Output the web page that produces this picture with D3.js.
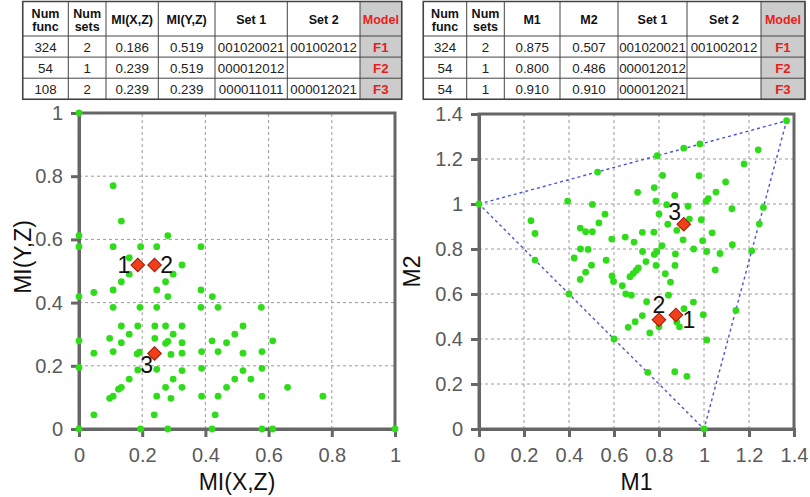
<!DOCTYPE html>
<html><head><meta charset="utf-8">
<script src="https://cdn.jsdelivr.net/npm/d3@7"></script>
<style>
body{margin:0;background:#fff}
svg{display:block}
text{font-family:"Liberation Sans",Arial,Helvetica,sans-serif}
</style>
</head><body>
<svg id="chart" width="810" height="497"></svg>
<script>
// ---------------- DATA ----------------
const leftTableHeader = ["Num\nfunc", "Num\nsets", "MI(X,Z)", "MI(Y,Z)", "Set 1", "Set 2", "Model"];
const leftTableRows = [
  ["324", "2", "0.186", "0.519", "001020021", "001002012", "F1"],
  ["54", "1", "0.239", "0.519", "000012012", "", "F2"],
  ["108", "2", "0.239", "0.239", "000011011", "000012021", "F3"]
];
const rightTableHeader = ["Num\nfunc", "Num\nsets", "M1", "M2", "Set 1", "Set 2", "Model"];
const rightTableRows = [
  ["324", "2", "0.875", "0.507", "001020021", "001002012", "F1"],
  ["54", "1", "0.800", "0.486", "000012012", "", "F2"],
  ["54", "1", "0.910", "0.910", "000012021", "", "F3"]
];

const miTicks = [0, 0.2, 0.4, 0.6, 0.8, 1];
const mTicks = [0, 0.2, 0.4, 0.6, 0.8, 1, 1.2, 1.4];

// MI(X,Z), MI(Y,Z)
const miPoints = [
  [0,1],[0.108,0.770],[0.134,0.658],
  [0,0.612],[0.281,0.612],
  [0,0.577],[0.108,0.577],[0.195,0.577],[0.246,0.577],[0.386,0.577],
  [0.159,0.542],[0.326,0.519],
  [0.159,0.490],[0.298,0.490],
  [0.134,0.466],[0.274,0.466],
  [0.047,0.432],
  [0.108,0.440],[0.246,0.440],[0.386,0.440],
  [0,0.419],[0.281,0.419],[0.422,0.419],
  [0.108,0.385],[0.193,0.385],[0.246,0.385],[0.386,0.385],[0.440,0.385],[0.577,0.385],
  [0.134,0.326],[0.186,0.326],[0.240,0.326],[0.274,0.326],[0.326,0.326],[0.519,0.326],
  [0.159,0.300],[0.298,0.300],[0.493,0.300],
  [0.097,0.287],[0.240,0.287],
  [0,0.279],[0.421,0.279],[0.613,0.279],
  [0.134,0.273],[0.274,0.271],[0.281,0.277],[0.326,0.273],[0.467,0.273],
  [0.047,0.240],[0.108,0.245],[0.184,0.238],[0.191,0.243],[0.291,0.236],[0.326,0.240],[0.388,0.245],[0.440,0.245],[0.519,0.240],[0.579,0.245],
  [0,0.195],[0.186,0.187],[0.246,0.189],[0.326,0.185],[0.388,0.192],[0.519,0.185],[0.579,0.192],
  [0.159,0.158],[0.298,0.158],[0.493,0.158],[0.544,0.158],
  [0.134,0.132],[0.125,0.126],[0.274,0.132],[0.326,0.132],[0.467,0.132],[0.660,0.132],
  [0.097,0.097],[0.108,0.104],[0.246,0.104],[0.291,0.097],[0.388,0.104],[0.440,0.104],[0.579,0.104],[0.772,0.104],
  [0.047,0.045],[0.238,0.045],[0.431,0.045],
  [0,0],[0.195,0],[0.281,0],[0.421,0],[0.579,0],[0.613,0],[1,0]
];

// M1, M2
const mPoints = [
  [0,1],[1,0],[1.367,1.370],
  [0.527,1.142],[0.792,1.215],[0.910,1.248],[0.982,1.267],
  [1.264,0.985],[1.246,0.912],[1.212,0.792],[1.142,0.527],
  [0.249,0.751],[0.400,0.600],[0.600,0.400],[0.750,0.252],
  [0.231,0.926],[0.249,0.869],
  [0.394,1.013],[0.504,0.998],[0.560,0.955],[0.533,0.916],
  [0.450,0.893],[0.474,0.877],[0.504,0.877],
  [0.451,0.800],[0.485,0.798],
  [0.423,0.760],[0.565,0.750],[0.500,0.728],[0.474,0.697],[0.450,0.665],
  [0.590,0.844],[0.650,0.853],[0.689,0.831],
  [0.591,0.680],[0.598,0.656],
  [0.671,0.677],[0.685,0.691],[0.698,0.705],[0.708,0.716],
  [0.637,0.637],[0.652,0.601],[0.677,0.595],
  [0.745,0.566],[0.726,0.504],[0.694,0.477],[0.663,0.452],[0.759,0.427],
  [0.800,0.455],[0.911,0.535],[0.891,0.454],[0.879,0.476],
  [0.816,1.127],[0.978,1.126],
  [0.705,1.052],[0.779,1.073],[0.870,1.038],
  [0.786,1.013],[0.834,0.997],[0.929,0.990],
  [0.800,0.956],[0.839,0.910],[0.935,0.933],[0.988,0.930],
  [0.879,0.883],[0.726,0.874],[0.777,0.875],
  [1.096,1.098],[1.053,1.053],[1.019,1.024],[1.009,1.012],
  [1.124,0.979],[1.178,1.178],[1.241,1.241],
  [1.036,0.872],
  [0.907,0.841],[0.994,0.837],[1.126,0.819],
  [0.813,0.815],[0.727,0.789],[0.779,0.776],[0.790,0.789],
  [0.873,0.778],[0.954,0.800],[1.012,0.789],[1.071,0.780],
  [0.742,0.744],[0.787,0.727],[0.871,0.727],[1.050,0.707],
  [0.828,0.690],[0.851,0.653],
  [0.842,0.595],[0.953,0.564],
  [0.997,0.508],[1.012,0.396],
  [0.870,0.255],[0.924,0.234]
];

const miModels = [
  {id: "1", x: 0.186, y: 0.519},
  {id: "2", x: 0.239, y: 0.519},
  {id: "3", x: 0.239, y: 0.239}
];
const mModels = [
  {id: "1", x: 0.875, y: 0.507},
  {id: "2", x: 0.800, y: 0.486},
  {id: "3", x: 0.910, y: 0.910}
];
const mTriangle = [[0,1],[1.367,1.370],[1,0],[0,1]];

// ---------------- DRAW ----------------
const svg = d3.select("#chart");
const AXIS = "#666666", GREEN = "#2fdc1a";

function drawTable(header, rows, cols) {
  const g = svg.append("g");
  const top = 1.5, headBottom = 36, rowH = 21.1;
  const bottom = headBottom + rowH * rows.length;
  const last = cols.length - 2;
  g.append("rect").attr("x", cols[last]).attr("y", top)
    .attr("width", cols[last + 1] - cols[last]).attr("height", bottom - top)
    .attr("fill", "#cccccc");
  cols.forEach(c => g.append("line").attr("x1", c).attr("x2", c).attr("y1", top).attr("y2", bottom)
    .attr("stroke", "#444").attr("stroke-width", 1));
  const hy = [top, headBottom].concat(rows.map((r, i) => headBottom + rowH * (i + 1)));
  hy.forEach(y => g.append("line").attr("x1", cols[0]).attr("x2", cols[cols.length - 1]).attr("y1", y).attr("y2", y)
    .attr("stroke", "#444").attr("stroke-width", 1));
  g.append("rect").attr("x", cols[0]).attr("y", top).attr("width", cols[cols.length-1]-cols[0]).attr("height", bottom - top)
    .attr("fill", "none").attr("stroke", "#444").attr("stroke-width", 1.5);
  header.forEach((h, i) => {
    const cx = (cols[i] + cols[i + 1]) / 2;
    const lines = h.split("\n");
    const t = g.append("text").attr("x", cx).attr("text-anchor", "middle")
      .attr("font-size", 12.5).attr("font-weight", "bold")
      .attr("fill", i === last ? "#e8201a" : "#111");
    if (lines.length === 2) {
      t.append("tspan").attr("x", cx).attr("y", 17.5).text(lines[0]);
      t.append("tspan").attr("x", cx).attr("y", 31).text(lines[1]);
    } else {
      t.attr("y", 24).text(h);
    }
  });
  rows.forEach((r, ri) => {
    const cy = headBottom + rowH * ri + rowH / 2 + 1;
    r.forEach((v, i) => {
      g.append("text").attr("x", (cols[i] + cols[i + 1]) / 2).attr("y", cy)
        .attr("text-anchor", "middle").attr("dominant-baseline", "central")
        .attr("font-size", 13.3).attr("font-weight", i === last ? "bold" : "normal")
        .attr("fill", i === last ? "#e8201a" : "#222").text(v);
    });
  });
}

drawTable(leftTableHeader, leftTableRows, [22.7, 68.3, 106, 158.3, 215, 287.3, 360, 401.7]);
drawTable(rightTableHeader, rightTableRows, [423.3, 466.7, 504.3, 560, 618, 687, 761, 805]);

function drawPlot(o) {
  const {x, y, ticks, points, models, labelOffsets, triangle} = o;
  const g = svg.append("g");
  const [x0, x1] = x.range(), [y0, y1] = y.range();
  const inner = ticks.slice(1, -1);
  g.selectAll(null).data(inner).join("line")
    .attr("x1", d => x(d)).attr("x2", d => x(d)).attr("y1", y0).attr("y2", y1)
    .attr("stroke", "#9a9a9a").attr("stroke-width", 1).attr("stroke-dasharray", "3,3");
  g.selectAll(null).data(inner).join("line")
    .attr("y1", d => y(d)).attr("y2", d => y(d)).attr("x1", x0).attr("x2", x1)
    .attr("stroke", "#9a9a9a").attr("stroke-width", 1).attr("stroke-dasharray", "3,3");
  if (triangle) {
    g.append("path").datum(triangle)
      .attr("d", d3.line().x(d => x(d[0])).y(d => y(d[1])))
      .attr("fill", "none").attr("stroke", "#4a55d0").attr("stroke-width", 1.4).attr("stroke-dasharray", "3,3");
  }
  g.append("rect").attr("x", x0).attr("y", y1).attr("width", x1 - x0).attr("height", y0 - y1)
    .attr("fill", "none").attr("stroke", AXIS).attr("stroke-width", 3);
  const fmt = d3.format("~g");
  const ax = g.append("g").attr("transform", `translate(0,${y0})`)
    .call(d3.axisBottom(x).tickValues(ticks).tickSize(8).tickPadding(11).tickFormat(fmt));
  const ay = g.append("g").attr("transform", `translate(${x0},0)`)
    .call(d3.axisLeft(y).tickValues(ticks).tickSize(8).tickPadding(8).tickFormat(fmt));
  [ax, ay].forEach(a => {
    a.select(".domain").attr("stroke", AXIS).attr("stroke-width", 3);
    a.selectAll(".tick line").attr("stroke", AXIS).attr("stroke-width", 3);
    a.selectAll(".tick text").attr("fill", "#5a5a5a").attr("font-size", 20)
      .attr("font-family", '"Liberation Sans",Arial,sans-serif');
  });
  g.selectAll(null).data(points).join("circle")
    .attr("cx", d => x(d[0])).attr("cy", d => y(d[1])).attr("r", 3.4).attr("fill", GREEN);
  const sym = d3.symbol(d3.symbolSquare, 92);
  g.selectAll(null).data(models).join("path")
    .attr("d", sym)
    .attr("transform", d => `translate(${x(d.x)},${y(d.y)}) rotate(45)`)
    .attr("fill", "#f0401a").attr("stroke", "#a01808").attr("stroke-width", 1);
  g.selectAll(null).data(models).join("text")
    .attr("x", d => x(d.x) + labelOffsets[d.id][0])
    .attr("y", d => y(d.y) + labelOffsets[d.id][1])
    .attr("text-anchor", "middle").attr("dominant-baseline", "central")
    .attr("font-size", 23).attr("fill", "#111").text(d => d.id);
  g.append("text").attr("x", (x0 + x1) / 2).attr("y", 490).attr("text-anchor", "middle")
    .attr("font-size", 23).attr("fill", "#111").text(o.xTitle);
  g.append("text").attr("transform", `translate(${o.yTitleX},${(y0 + y1) / 2 + o.yTitleShift}) rotate(-90)`)
    .attr("text-anchor", "middle").attr("font-size", 23).attr("fill", "#111").text(o.yTitle);
}

drawPlot({
  x: d3.scaleLinear().domain([0, 1]).range([79, 395]),
  y: d3.scaleLinear().domain([0, 1]).range([429, 113]),
  ticks: miTicks, points: miPoints, models: miModels,
  labelOffsets: {"1": [-14, 0], "2": [12, 0], "3": [-8, 12]},
  xTitle: "MI(X,Z)", yTitle: "MI(Y,Z)", yTitleX: 31, yTitleShift: -14
});
drawPlot({
  x: d3.scaleLinear().domain([0, 1.4]).range([479, 794]),
  y: d3.scaleLinear().domain([0, 1.4]).range([429, 114]),
  ticks: mTicks, points: mPoints, models: mModels, triangle: mTriangle,
  labelOffsets: {"1": [13, 5], "2": [0, -15], "3": [-9, -12]},
  xTitle: "M1", yTitle: "M2", yTitleX: 420, yTitleShift: 0
});
</script>
</body></html>
